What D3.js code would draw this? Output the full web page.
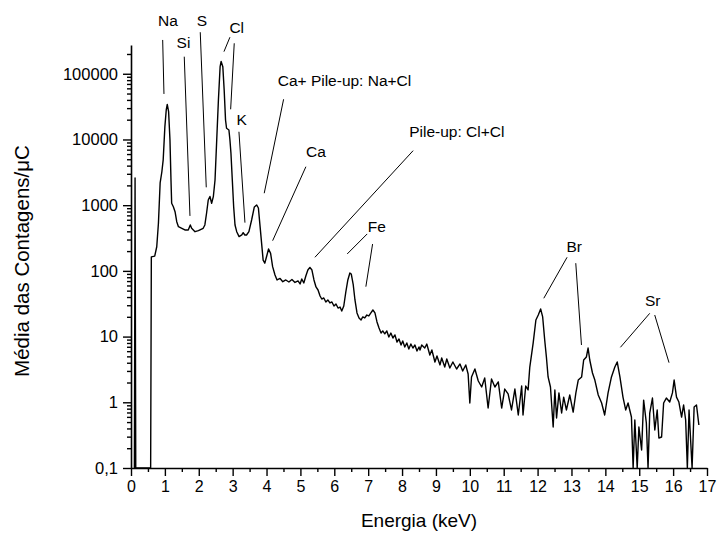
<!DOCTYPE html>
<html lang="pt">
  <head>
    <meta charset="utf-8">
    <title>Espectro PIXE</title>
    <script src="https://d3js.org/d3.v7.min.js"></script>
    <style>
      body { margin: 0; background: #fff; }
      text { font-family: 'Liberation Sans', Arial, sans-serif; }
    </style>
  </head>
  <body>
    <div id="container"></div>
    <script>
      // spectrum: [energy keV, mean counts/uC]; 0 = below the axis
      const spectrum = [
        [0.10, 0], [0.12, 2600], [0.14, 0], [0.58, 0], [0.60, 163], [0.70, 168], [0.76, 233],
        [0.81, 536], [0.86, 2180], [0.91, 3200], [0.95, 4880], [1.00, 15700], [1.04, 28100],
        [1.07, 34100], [1.11, 26500], [1.15, 9820], [1.18, 2420], [1.20, 1070], [1.25, 948],
        [1.30, 796], [1.35, 561], [1.40, 471], [1.50, 445], [1.59, 420], [1.69, 420],
        [1.75, 500], [1.79, 445], [1.89, 395], [1.99, 409], [2.13, 445], [2.18, 500],
        [2.23, 753], [2.28, 1200], [2.33, 1356], [2.38, 1070], [2.43, 1346], [2.48, 2420],
        [2.53, 9820], [2.58, 39900], [2.63, 128000], [2.66, 154000], [2.71, 128000],
        [2.75, 56600], [2.79, 19800], [2.82, 14800], [2.89, 13960], [2.92, 9820], [2.95, 6170],
        [2.99, 2420], [3.03, 948], [3.07, 500], [3.12, 395], [3.19, 332], [3.27, 352],
        [3.31, 381], [3.36, 352], [3.41, 352], [3.48, 395], [3.56, 595], [3.64, 940],
        [3.71, 1007], [3.76, 906], [3.81, 471], [3.90, 146], [3.95, 131], [4.00, 164],
        [4.06, 215], [4.12, 185], [4.18, 116], [4.25, 86.7], [4.31, 72.7], [4.40, 76.6],
        [4.48, 68.5], [4.57, 72.7], [4.66, 67.8], [4.75, 74], [4.84, 66.6], [4.93, 70.2],
        [4.99, 63.2], [5.04, 75.3], [5.10, 65.5], [5.16, 83.6], [5.22, 103], [5.28, 113],
        [5.34, 103], [5.40, 72.7], [5.46, 56.9], [5.52, 51.2], [5.58, 41.5], [5.63, 37.3],
        [5.69, 38.7], [5.75, 33.6], [5.81, 36.1], [5.87, 32.5], [5.93, 33.6], [5.99, 29.2],
        [6.05, 31.3], [6.11, 27.2], [6.17, 28.2], [6.22, 24.5], [6.28, 29.2], [6.34, 47.7],
        [6.40, 72.7], [6.46, 92.9], [6.50, 89.7], [6.56, 61], [6.61, 36.1], [6.67, 22.9],
        [6.73, 19.2], [6.79, 17.9], [6.84, 19.9], [6.90, 19.2], [6.96, 21.3], [7.02, 20.6],
        [7.08, 22.9], [7.14, 25.4], [7.20, 22.9], [7.26, 16.7], [7.32, 13.5], [7.38, 11.3],
        [7.43, 12.2], [7.49, 11.0], [7.55, 12.2], [7.61, 9.86], [7.67, 11.3], [7.73, 9.52],
        [7.79, 10.6], [7.85, 8.27], [7.91, 9.19], [7.97, 7.45], [8.02, 8.57], [8.08, 6.95],
        [8.14, 8.0], [8.20, 6.47], [8.26, 7.71], [8.32, 6.70], [8.38, 7.45], [8.44, 6.04],
        [8.50, 6.95], [8.53, 6.25], [8.58, 7.45], [8.67, 6.70], [8.73, 7.71], [8.82, 5.25],
        [8.88, 6.25], [8.97, 4.11], [9.03, 5.07], [9.12, 3.70], [9.17, 4.72], [9.26, 3.44],
        [9.32, 4.56], [9.41, 3.33], [9.50, 4.11], [9.61, 3.21], [9.71, 3.83], [9.79, 2.99],
        [9.88, 3.70], [9.95, 2.70], [10.00, 0.975], [10.05, 2.43], [10.15, 3.21], [10.25, 2.11],
        [10.35, 1.71], [10.44, 2.34], [10.54, 0.818], [10.64, 2.26], [10.74, 1.71], [10.84, 2.04],
        [10.94, 0.818], [11.03, 1.59], [11.13, 1.34], [11.23, 0.764], [11.33, 1.59], [11.43, 0.641],
        [11.53, 1.77], [11.57, 0.641], [11.65, 1.77], [11.72, 1.54], [11.77, 3.44], [11.87, 8.0],
        [11.95, 17.9], [12.02, 21.3], [12.09, 26.3], [12.15, 19.9], [12.21, 8.87], [12.26, 4.89],
        [12.31, 2.43], [12.38, 1.71], [12.46, 0.421], [12.51, 1.54], [12.56, 0.577], [12.63, 1.39],
        [12.71, 0.687], [12.77, 1.20], [12.85, 0.764], [12.95, 1.29], [13.05, 0.711], [13.13, 1.39],
        [13.20, 2.18], [13.30, 2.43], [13.36, 4.40], [13.44, 4.89], [13.49, 6.70], [13.54, 4.40],
        [13.62, 2.79], [13.69, 2.18], [13.79, 1.29], [13.89, 0.975], [13.98, 0.641], [14.08, 1.39],
        [14.18, 2.43], [14.28, 3.44], [14.35, 4.11], [14.43, 2.43], [14.52, 1.20], [14.60, 0.764],
        [14.67, 0.975], [14.77, 0.597], [14.82, 0], [14.87, 0.538], [14.94, 0], [14.99, 0.421],
        [15.07, 0.188], [15.13, 1.08], [15.21, 0.484], [15.26, 0], [15.31, 0.687], [15.39, 1.16],
        [15.46, 0.379], [15.53, 0.764], [15.58, 0.286], [15.66, 0.296], [15.72, 0.975],
        [15.80, 1.16], [15.90, 1.01], [15.98, 1.39], [16.03, 2.18], [16.10, 1.20], [16.17, 1.01],
        [16.25, 0.597], [16.31, 0.910], [16.37, 0.538], [16.42, 0], [16.47, 0.764], [16.56, 0],
        [16.62, 0.847], [16.69, 0.910], [16.76, 0.451]
      ]

      const xTicks = d3.range(0, 18)
      const yTicks = [0.1, 1, 10, 100, 1000, 10000, 100000]
      const yTickLabels = ['0,1', '1', '10', '100', '1000', '10000', '100000']

      // element labels: text, energy, counts (anchor of the text)
      const labels = [
        ['Na', 1.09, 535000, 'middle'], ['Si', 1.55, 247000, 'middle'], ['S', 2.09, 540000, 'middle'],
        ['Cl', 3.12, 418000, 'middle'], ['K', 3.27, 16600, 'middle'],
        ['Ca+ Pile-up: Na+Cl', 4.33, 65200, 'start'], ['Ca', 5.457, 5420, 'middle'],
        ['Pile-up: Cl+Cl', 8.21, 10900, 'start'], ['Fe', 7.257, 384, 'middle'],
        ['Br', 13.08, 197, 'middle'], ['Sr', 15.40, 29.2, 'middle']
      ]
      // leader lines: [E1, C1, E2, C2]
      const leaders = [
        [0.935, 327000, 0.973, 49300], [1.572, 182000, 1.740, 686], [2.044, 429000, 2.221, 1870],
        [2.920, 360000, 2.743, 217000], [3.047, 291000, 2.941, 28800], [3.186, 13100, 3.363, 542],
        [4.504, 40900, 3.932, 1520], [5.162, 3850, 4.180, 288], [8.327, 6760, 5.428, 161],
        [6.971, 365, 6.381, 181], [7.130, 256, 6.932, 57.5], [12.870, 161, 12.183, 38.3],
        [13.127, 131, 13.295, 7.45], [15.310, 22.6, 14.445, 6.87], [15.457, 21.3, 15.879, 4.01]
      ]

      const W = 717, H = 533
      const mLeft = 131, mRight = 707, mTop = 45, mBottom = 468

      const svg = d3.select('#container').append('svg')
        .attr('width', W)
        .attr('height', H)

      const x = d3.scaleLinear().domain([0, 17]).range([mLeft, mRight])
      const y = d3.scaleLog().domain([0.1, 274000]).range([mBottom, mTop])
      const yc = y.copy().clamp(true)

      // minor ticks
      let yMinor = []
      yTicks.forEach(d => { for (let k = 2; k < 10; k++) if (d * k < 274000) yMinor.push(d * k) })
      let xMinor = xTicks.slice(0, -1).map(d => d + 0.5)

      svg.append('g')
        .attr('transform', `translate(${mLeft},0)`)
        .call(d3.axisLeft(y).tickValues(yMinor).tickSize(4).tickFormat(''))
        .call(g => g.select('.domain').remove())
      svg.append('g')
        .attr('transform', `translate(0,${mBottom})`)
        .call(d3.axisBottom(x).tickValues(xMinor).tickSize(4).tickFormat(''))
        .call(g => g.select('.domain').remove())

      svg.append('g')
        .attr('transform', `translate(${mLeft},0)`)
        .call(d3.axisLeft(y).tickValues(yTicks).tickSize(8).tickSizeOuter(0)
          .tickFormat((d, i) => yTickLabels[i]))
        .call(g => g.selectAll('text').attr('font-size', 16.5).attr('x', -13))
        .attr('font-family', null)
      svg.append('g')
        .attr('transform', `translate(0,${mBottom})`)
        .call(d3.axisBottom(x).tickValues(xTicks).tickSize(8).tickSizeOuter(0))
        .call(g => g.selectAll('text').attr('font-size', 16).attr('y', 13))
        .attr('font-family', null)

      svg.selectAll('.domain').attr('stroke-width', 1.6)
      svg.selectAll('.tick line').attr('stroke-width', 1.4)

      // spectrum
      svg.append('path')
        .datum(spectrum)
        .attr('fill', 'none')
        .attr('stroke', '#000')
        .attr('stroke-width', 1.4)
        .attr('stroke-linejoin', 'round')
        .attr('d', d3.line().x(d => x(d[0])).y(d => yc(d[1])))

      // leader lines and element labels
      svg.selectAll('line.leader')
        .data(leaders).enter()
        .append('line')
        .attr('class', 'leader')
        .attr('x1', d => x(d[0])).attr('y1', d => y(d[1]))
        .attr('x2', d => x(d[2])).attr('y2', d => y(d[3]))
        .attr('stroke', '#000')
        .attr('stroke-width', 1)
      svg.selectAll('text.lbl')
        .data(labels).enter()
        .append('text')
        .attr('class', 'lbl')
        .attr('x', d => x(d[1]))
        .attr('y', d => y(d[2]))
        .attr('text-anchor', d => d[3])
        .attr('font-size', 15.5)
        .text(d => d[0])

      // axis titles
      svg.append('text')
        .attr('x', (mLeft + mRight) / 2)
        .attr('y', 527)
        .attr('text-anchor', 'middle')
        .attr('font-size', 19)
        .text('Energia (keV)')
      svg.append('text')
        .attr('transform', `translate(29,261) rotate(-90)`)
        .attr('text-anchor', 'middle')
        .attr('font-size', 20.5)
        .text('Média das Contagens/μC')
    </script>
  </body>
</html>
